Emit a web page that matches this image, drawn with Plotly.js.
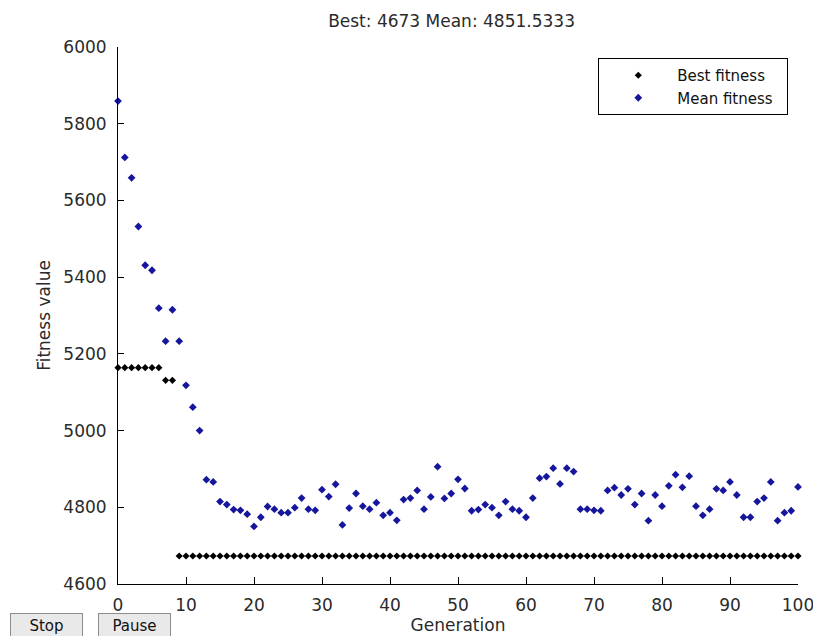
<!DOCTYPE html>
<html>
<head>
<meta charset="utf-8">
<script src="https://cdn.plot.ly/plotly-3.0.1.min.js"></script>
<style>
  html, body { margin: 0; padding: 0; background: #ffffff; }
  #chart { width: 813px; height: 636px; }
</style>
</head>
<body>
<div id="chart"></div>
<script>
var generations = [0,1,2,3,4,5,6,7,8,9,10,11,12,13,14,15,16,17,18,19,20,
  21,22,23,24,25,26,27,28,29,30,31,32,33,34,35,36,37,38,39,40,
  41,42,43,44,45,46,47,48,49,50,51,52,53,54,55,56,57,58,59,60,
  61,62,63,64,65,66,67,68,69,70,71,72,73,74,75,76,77,78,79,80,
  81,82,83,84,85,86,87,88,89,90,91,92,93,94,95,96,97,98,99,100];

var bestFitness = [5164,5164,5164,5164,5164,5164,5164,5131,5131,4673,
  4673,4673,4673,4673,4673,4673,4673,4673,4673,4673,
  4673,4673,4673,4673,4673,4673,4673,4673,4673,4673,
  4673,4673,4673,4673,4673,4673,4673,4673,4673,4673,
  4673,4673,4673,4673,4673,4673,4673,4673,4673,4673,
  4673,4673,4673,4673,4673,4673,4673,4673,4673,4673,
  4673,4673,4673,4673,4673,4673,4673,4673,4673,4673,
  4673,4673,4673,4673,4673,4673,4673,4673,4673,4673,
  4673,4673,4673,4673,4673,4673,4673,4673,4673,4673,
  4673,4673,4673,4673,4673,4673,4673,4673,4673,4673,4673];

var meanFitness = [5859,5712,5659,5532,5431,5418,5319,5233,5315,5233,
  5118,5061,5000,4872,4866,4815,4807,4794,4792,4782,
  4750,4774,4802,4795,4786,4786,4799,4824,4795,4792,
  4846,4828,4860,4754,4798,4836,4803,4795,4812,4779,
  4786,4766,4820,4824,4844,4795,4827,4906,4823,4836,
  4873,4849,4791,4794,4807,4799,4779,4815,4795,4791,
  4774,4824,4876,4880,4902,4861,4902,4893,4795,4795,
  4792,4791,4844,4851,4832,4848,4807,4836,4765,4832,
  4803,4856,4885,4852,4881,4803,4779,4795,4848,4844,
  4866,4832,4774,4774,4815,4824,4866,4765,4786,4791,4853];

var seriesNames = ["Best fitness", "Mean fitness"];
var titleText = "Best: 4673 Mean: 4851.5333";
var xTitle = "Generation";
var yTitle = "Fitness value";
var yTickVals = [4600,4800,5000,5200,5400,5600,5800,6000];
var xTickVals = [0,10,20,30,40,50,60,70,80,90,100];
var buttonLabels = ["Stop", "Pause"];

var FONT = "DejaVu Sans, Arial, sans-serif";
var TXT = "#2a2a2a";
var PAD = "\u00a0\u00a0";

var traces = [
  {
    x: generations, y: bestFitness, name: seriesNames[0] + PAD,
    type: "scatter", mode: "markers", cliponaxis: false,
    marker: { symbol: "diamond", size: 5.5, color: "#000000", line: { width: 0 } }
  },
  {
    x: generations, y: meanFitness, name: seriesNames[1] + PAD,
    type: "scatter", mode: "markers", cliponaxis: false,
    marker: { symbol: "diamond", size: 6, color: "#16169c", line: { width: 0 } }
  }
];

var layout = {
  width: 813, height: 636,
  margin: { l: 118, r: 15, t: 47, b: 52, pad: 0 },
  paper_bgcolor: "#ffffff",
  plot_bgcolor: "#ffffff",
  font: { family: FONT, size: 17, color: TXT },
  showlegend: true,
  title: {
    text: titleText,
    font: { family: FONT, size: 17, color: TXT },
    xref: "container", x: 0.5554, xanchor: "center",
    yref: "container", y: 0.967, yanchor: "middle"
  },
  xaxis: {
    range: [0, 100],
    tickvals: xTickVals,
    ticks: "inside", ticklen: 7, tickwidth: 1, tickcolor: "#000000",
    showline: true, linecolor: "#000000", linewidth: 1,
    showgrid: false, zeroline: false, mirror: false,
    ticklabelstandoff: 6,
    ticklabeloverflow: "allow",
    automargin: false,
    tickfont: { family: FONT, size: 17, color: TXT },
    title: { text: xTitle, font: { family: FONT, size: 17, color: TXT }, standoff: 4 }
  },
  yaxis: {
    range: [4600, 6000],
    tickvals: yTickVals,
    ticks: "inside", ticklen: 6, tickwidth: 1, tickcolor: "#000000",
    showline: true, linecolor: "#000000", linewidth: 1,
    showgrid: false, zeroline: false, mirror: false,
    ticklabelstandoff: 7,
    ticklabeloverflow: "allow",
    automargin: false,
    tickfont: { family: FONT, size: 17, color: TXT },
    title: { text: yTitle, font: { family: FONT, size: 17, color: TXT }, standoff: 8 }
  },
  legend: {
    x: 0.9857, xanchor: "right", xref: "paper",
    y: 0.9795, yanchor: "top", yref: "paper",
    bgcolor: "#ffffff", bordercolor: "#000000", borderwidth: 1,
    font: { family: FONT, size: 15, color: "#111111" },
    itemwidth: 68,
    tracegroupgap: 0
  },
  annotations: [
    {
      text: buttonLabels[0], xref: "paper", yref: "paper",
      x: (46.5 - 118) / 680, y: (584 - 625) / 537,
      xanchor: "center", yanchor: "middle", showarrow: false,
      width: 69, height: 21, borderpad: 1,
      bgcolor: "#e9e9e9", bordercolor: "#8c8c8c", borderwidth: 1,
      font: { family: FONT, size: 15, color: "#111111" }
    },
    {
      text: buttonLabels[1], xref: "paper", yref: "paper",
      x: (134 - 118) / 680, y: (584 - 625) / 537,
      xanchor: "center", yanchor: "middle", showarrow: false,
      width: 69, height: 21, borderpad: 1,
      bgcolor: "#e9e9e9", bordercolor: "#8c8c8c", borderwidth: 1,
      font: { family: FONT, size: 15, color: "#111111" }
    }
  ]
};

Plotly.newPlot("chart", traces, layout, { displayModeBar: false, staticPlot: true });
</script>
</body>
</html>
